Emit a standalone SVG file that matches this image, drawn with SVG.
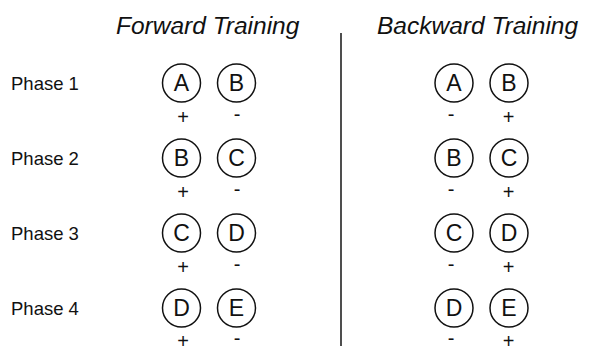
<svg xmlns="http://www.w3.org/2000/svg" width="589" height="346" viewBox="0 0 589 346">
<style>
.title{font-family:"Liberation Sans",Arial,sans-serif;font-style:italic;font-size:24.5px;fill:#111}
.phase{font-family:"Liberation Sans",Arial,sans-serif;font-size:18.5px;fill:#111}
.node circle{fill:none;stroke:#111;stroke-width:1.5}
.node text{font-family:"Liberation Sans",Arial,sans-serif;font-size:23px;fill:#111;text-anchor:middle}
.sign{font-family:"Liberation Sans",Arial,sans-serif;font-size:20px;fill:#111;text-anchor:middle}
</style>
<rect width="589" height="346" fill="#fff"/>
<text class="title" x="116" y="34">Forward Training</text>
<text class="title" x="377" y="34">Backward Training</text>
<g id="divider"><line x1="341" y1="33" x2="341" y2="346" stroke="#222" stroke-width="1.6"/></g>
<g id="labels">
<text class="phase" x="11" y="89.5">Phase 1</text>
<text class="phase" x="11" y="164.5">Phase 2</text>
<text class="phase" x="11" y="239.5">Phase 3</text>
<text class="phase" x="11" y="314.5">Phase 4</text>
</g>
<g id="f1A" class="node"><circle cx="181.5" cy="83" r="19"/><text x="181.5" y="91.3">A</text></g>
<g id="f1B" class="node"><circle cx="236.5" cy="83" r="19"/><text x="236.5" y="91.3">B</text></g>
<g id="f2B" class="node"><circle cx="181.5" cy="158" r="19"/><text x="181.5" y="166.3">B</text></g>
<g id="f2C" class="node"><circle cx="236.5" cy="158" r="19"/><text x="236.5" y="166.3">C</text></g>
<g id="f3C" class="node"><circle cx="181.5" cy="233" r="19"/><text x="181.5" y="241.3">C</text></g>
<g id="f3D" class="node"><circle cx="236.5" cy="233" r="19"/><text x="236.5" y="241.3">D</text></g>
<g id="f4D" class="node"><circle cx="181.5" cy="308" r="19"/><text x="181.5" y="316.3">D</text></g>
<g id="f4E" class="node"><circle cx="236.5" cy="308" r="19"/><text x="236.5" y="316.3">E</text></g>
<g id="b1A" class="node"><circle cx="454" cy="83" r="19"/><text x="454" y="91.3">A</text></g>
<g id="b1B" class="node"><circle cx="509" cy="83" r="19"/><text x="509" y="91.3">B</text></g>
<g id="b2B" class="node"><circle cx="454" cy="158" r="19"/><text x="454" y="166.3">B</text></g>
<g id="b2C" class="node"><circle cx="509" cy="158" r="19"/><text x="509" y="166.3">C</text></g>
<g id="b3C" class="node"><circle cx="454" cy="233" r="19"/><text x="454" y="241.3">C</text></g>
<g id="b3D" class="node"><circle cx="509" cy="233" r="19"/><text x="509" y="241.3">D</text></g>
<g id="b4D" class="node"><circle cx="454" cy="308" r="19"/><text x="454" y="316.3">D</text></g>
<g id="b4E" class="node"><circle cx="509" cy="308" r="19"/><text x="509" y="316.3">E</text></g>
<g id="signs">
<text class="sign" x="183" y="124">+</text><text class="sign" x="237" y="121">-</text>
<text class="sign" x="183" y="199">+</text><text class="sign" x="237" y="196">-</text>
<text class="sign" x="183" y="274">+</text><text class="sign" x="237" y="271">-</text>
<text class="sign" x="183" y="347.5">+</text><text class="sign" x="237" y="344.5">-</text>
<text class="sign" x="451" y="121">-</text><text class="sign" x="508.5" y="124">+</text>
<text class="sign" x="451" y="196">-</text><text class="sign" x="508.5" y="199">+</text>
<text class="sign" x="451" y="271">-</text><text class="sign" x="508.5" y="274">+</text>
<text class="sign" x="451" y="344.5">-</text><text class="sign" x="508.5" y="347.5">+</text>
</g>
</svg>
